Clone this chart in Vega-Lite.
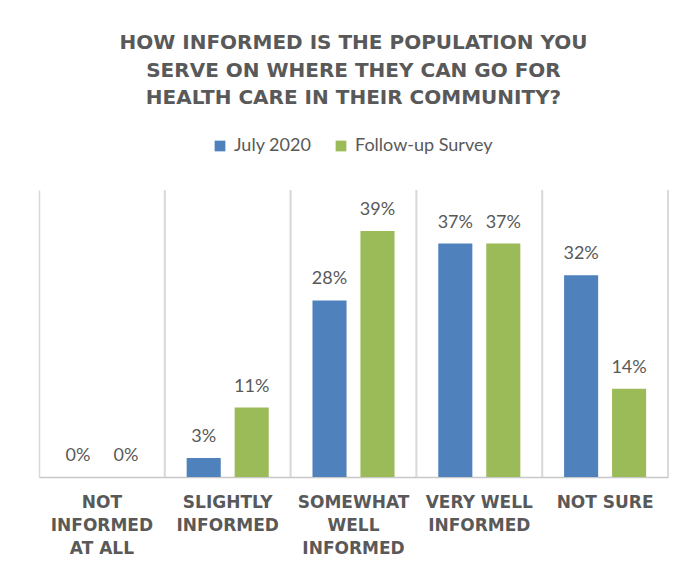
{
  "$schema": "https://vega.github.io/schema/vega-lite/v6.json",
  "width": 629,
  "height": 287,
  "autosize": {"type": "none"},
  "padding": {"left": 39, "top": 190, "right": 28, "bottom": 88},
  "background": "white",
  "title": {
    "text": ["HOW INFORMED IS THE POPULATION YOU", "SERVE ON WHERE THEY CAN GO FOR", "HEALTH CARE IN THEIR COMMUNITY?"],
    "anchor": "middle",
    "font": "DejaVu Sans",
    "fontWeight": "bold",
    "fontSize": 20,
    "color": "#595959",
    "lineHeight": 27.5,
    "offset": 29
  },
  "data": {
    "values": [
      {"category": "NOT INFORMED AT ALL", "survey": "July 2020", "value": 0},
      {"category": "NOT INFORMED AT ALL", "survey": "Follow-up Survey", "value": 0},
      {"category": "SLIGHTLY INFORMED", "survey": "July 2020", "value": 0.03},
      {"category": "SLIGHTLY INFORMED", "survey": "Follow-up Survey", "value": 0.11},
      {"category": "SOMEWHAT WELL INFORMED", "survey": "July 2020", "value": 0.28},
      {"category": "SOMEWHAT WELL INFORMED", "survey": "Follow-up Survey", "value": 0.39},
      {"category": "VERY WELL INFORMED", "survey": "July 2020", "value": 0.37},
      {"category": "VERY WELL INFORMED", "survey": "Follow-up Survey", "value": 0.37},
      {"category": "NOT SURE", "survey": "July 2020", "value": 0.32},
      {"category": "NOT SURE", "survey": "Follow-up Survey", "value": 0.14}
    ]
  },
  "encoding": {
    "x": {
      "field": "category",
      "type": "nominal",
      "sort": ["NOT INFORMED AT ALL", "SLIGHTLY INFORMED", "SOMEWHAT WELL INFORMED", "VERY WELL INFORMED", "NOT SURE"],
      "scale": {"paddingInner": 0, "paddingOuter": 0},
      "axis": {
        "title": null,
        "labelAngle": 0,
        "ticks": false,
        "grid": true,
        "bandPosition": 0,
        "gridColor": "#d9d9d9",
        "gridWidth": 1.5,
        "domainColor": "#c8c8c8",
        "domainWidth": 1.5,
        "labelFont": "DejaVu Sans",
        "labelFontWeight": "bold",
        "labelFontSize": 17,
        "labelColor": "#595959",
        "labelLineHeight": 23,
        "labelPadding": 17,
        "labelOverlap": false,
        "labelLimit": 300,
        "labelExpr": "datum.value == 'NOT INFORMED AT ALL' ? ['NOT', 'INFORMED', 'AT ALL'] : datum.value == 'SLIGHTLY INFORMED' ? ['SLIGHTLY', 'INFORMED'] : datum.value == 'SOMEWHAT WELL INFORMED' ? ['SOMEWHAT', 'WELL', 'INFORMED'] : datum.value == 'VERY WELL INFORMED' ? ['VERY WELL', 'INFORMED'] : datum.value"
      }
    },
    "y": {
      "field": "value",
      "type": "quantitative",
      "scale": {"domain": [0, 0.455], "nice": false, "zero": true},
      "axis": null
    },
    "xOffset": {
      "field": "survey",
      "type": "nominal",
      "sort": ["July 2020", "Follow-up Survey"],
      "scale": {"paddingInner": 0.29, "paddingOuter": 0.456}
    }
  },
  "layer": [
    {
      "mark": {"type": "bar"},
      "encoding": {
        "color": {
          "field": "survey",
          "type": "nominal",
          "scale": {"domain": ["July 2020", "Follow-up Survey"], "range": ["#4f81bd", "#9bbb59"]},
          "legend": {
            "orient": "none",
            "legendX": 172,
            "legendY": -53,
            "direction": "horizontal",
            "title": null,
            "symbolType": "square",
            "symbolSize": 115,
            "labelFont": "Lato",
            "labelFontSize": 18,
            "labelColor": "#595959",
            "columnPadding": 20,
            "labelOffset": 5,
            "padding": 0
          }
        }
      }
    },
    {
      "mark": {"type": "text", "baseline": "alphabetic", "dy": -16, "font": "Lato", "fontSize": 18, "color": "#595959"},
      "encoding": {
        "text": {"field": "value", "type": "quantitative", "format": ".0%"}
      }
    },
    {
      "mark": {"type": "rule", "color": "#d9d9d9", "strokeWidth": 1.5},
      "encoding": {
        "x": {
          "field": "category",
          "type": "nominal",
          "sort": ["NOT INFORMED AT ALL", "SLIGHTLY INFORMED", "SOMEWHAT WELL INFORMED", "VERY WELL INFORMED", "NOT SURE"],
          "bandPosition": 1
        },
        "y": null,
        "xOffset": null
      }
    }
  ],
  "config": {"view": {"stroke": null}}
}
